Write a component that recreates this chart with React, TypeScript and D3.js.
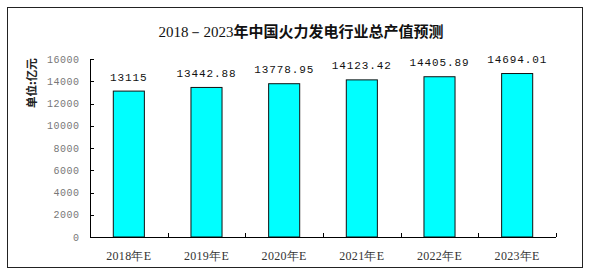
import React from "react";
import * as d3 from "d3";

const categories = ["2018年E", "2019年E", "2020年E", "2021年E", "2022年E", "2023年E"];
const values = [13115, 13442.88, 13778.95, 14123.42, 14405.89, 14694.01];
const valueLabels = ["13115", "13442.88", "13778.95", "14123.42", "14405.89", "14694.01"];
const yTicks = [0, 2000, 4000, 6000, 8000, 10000, 12000, 14000, 16000];
const titleNum = "2018－2023";
const titleCn = "年中国火力发电行业总产值预测";
const yTitle = "单位:亿元";

export default function App() {
  const W = 591, H = 275;
  const x0 = 90, x1 = 556, yTop = 59, yBot = 237;
  const y = d3.scaleLinear().domain([0, 16000]).range([yBot, yTop]);
  const band = d3.scaleBand<string>().domain(categories).range([x0, x1]).padding(0);
  const step = band.step();
  const bw = step * 0.4;
  const boundaries = d3.range(categories.length + 1).map((i) => x0 + i * step);

  return (
    <svg width={W} height={H} style={{ position: "absolute", left: 0, top: 0, background: "#fff" }}>
      <rect x={7.5} y={7.5} width={575} height={260} fill="#fff" stroke="#222" strokeWidth={1} />
      <text x={301} y={37} textAnchor="middle" fontSize={15}>
        <tspan fontFamily="Liberation Serif" fill="#111">{titleNum}</tspan>
        <tspan fontFamily="Noto Sans CJK SC" fontWeight="bold" fill="#111">{titleCn}</tspan>
      </text>
      <text
        transform={`translate(36,83) rotate(-90)`}
        textAnchor="middle"
        fontFamily="Noto Sans CJK SC"
        fontWeight="bold"
        fontSize={11.5}
        fill="#222"
      >
        {yTitle}
      </text>
      {yTicks.map((t) => (
        <g key={t}>
          <line x1={x0} x2={x0 + 4} y1={Math.round(y(t)) + 0.5} y2={Math.round(y(t)) + 0.5} stroke="#000" />
          <text
            x={79.5}
            y={y(t) + 3.5}
            textAnchor="end"
            fontFamily="Liberation Mono"
            fontSize={10}
            letterSpacing={0.5}
            fill="#777"
          >
            {t}
          </text>
        </g>
      ))}
      {categories.map((c, i) => {
        const cx = band(c)! + step / 2;
        const top = y(values[i]);
        return (
          <g key={c}>
            <rect
              x={cx - bw / 2}
              y={top}
              width={bw}
              height={yBot - top}
              fill="#00FFFF"
              stroke="#111"
              strokeWidth={1}
            />
            <text
              x={cx}
              y={top - 10.5}
              textAnchor="middle"
              fontFamily="Liberation Mono"
              fontSize={11}
              letterSpacing={0.9}
              fill="#111"
            >
              {valueLabels[i]}
            </text>
            <text
              x={cx}
              y={260}
              textAnchor="middle"
              fontFamily="Liberation Serif"
              fontSize={12}
              letterSpacing={0.3}
              fill="#333"
            >
              {c}
            </text>
          </g>
        );
      })}
      {boundaries.map((bx, i) => (
        <line key={i} x1={Math.round(bx) + 0.5} x2={Math.round(bx) + 0.5} y1={yBot} y2={yBot - 4} stroke="#000" />
      ))}
      <line x1={x0 + 0.5} x2={x0 + 0.5} y1={yTop} y2={yBot + 0.5} stroke="#000" />
      <line x1={x0} x2={x1} y1={yBot + 0.5} y2={yBot + 0.5} stroke="#000" />
    </svg>
  );
}
